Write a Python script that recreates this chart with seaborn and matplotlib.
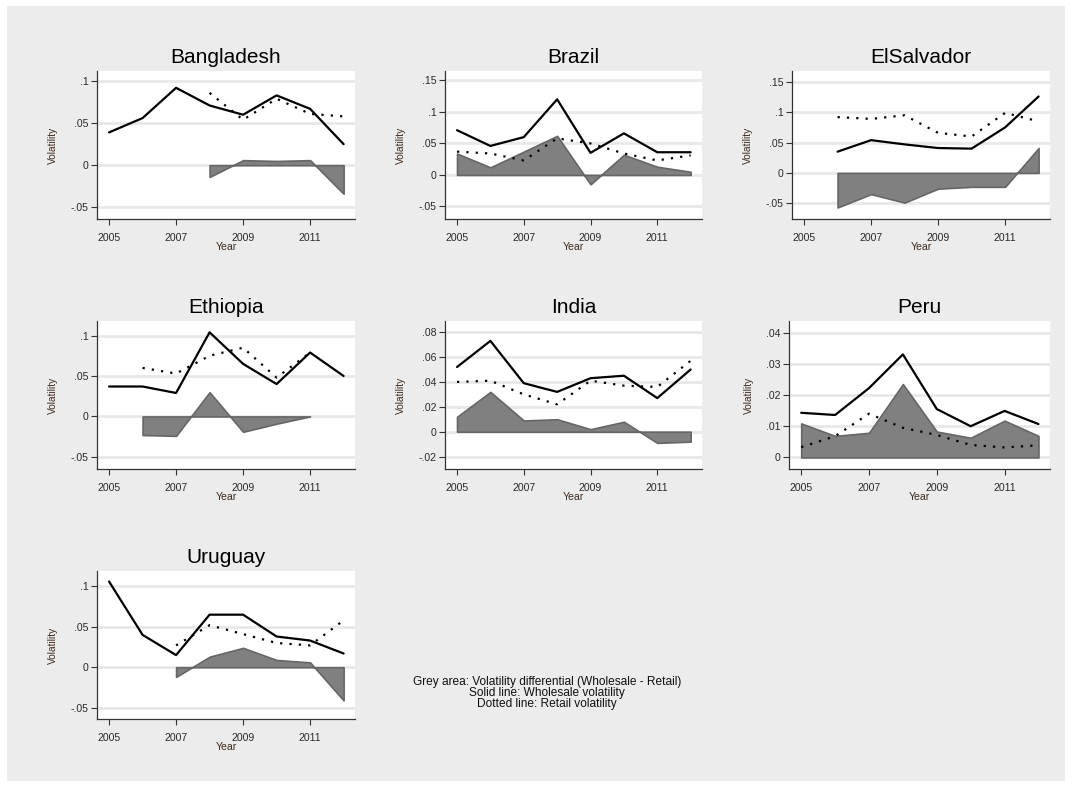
import numpy as np
import pandas as pd
import matplotlib
matplotlib.use("Agg")
import matplotlib.pyplot as plt
from matplotlib.patches import Rectangle
import seaborn as sns

years = [2005, 2006, 2007, 2008, 2009, 2010, 2011, 2012]
nan = np.nan

bangladesh_wholesale = [0.039, 0.056, 0.092, 0.071, 0.060, 0.083, 0.067, 0.025]
bangladesh_retail = [nan, nan, nan, 0.086, 0.054, 0.079, 0.061, 0.058]
bangladesh_diff = [nan, nan, nan, -0.014, 0.006, 0.005, 0.006, -0.034]

brazil_wholesale = [0.071, 0.046, 0.060, 0.120, 0.035, 0.066, 0.036, 0.036]
brazil_retail = [0.037, 0.034, 0.023, 0.058, 0.050, 0.034, 0.023, 0.031]
brazil_diff = [0.034, 0.012, 0.037, 0.062, -0.015, 0.032, 0.013, 0.005]

elsalvador_wholesale = [nan, 0.035, 0.054, 0.047, 0.041, 0.040, 0.075, 0.126]
elsalvador_retail = [nan, 0.092, 0.089, 0.095, 0.066, 0.060, 0.099, 0.085]
elsalvador_diff = [nan, -0.057, -0.035, -0.049, -0.026, -0.023, -0.023, 0.041]

ethiopia_wholesale = [0.037, 0.037, 0.029, 0.104, 0.065, 0.040, 0.079, 0.050]
ethiopia_retail = [nan, 0.060, 0.053, 0.075, 0.085, 0.048, 0.079, nan]
ethiopia_diff = [nan, -0.023, -0.024, 0.030, -0.019, -0.009, 0.0, nan]

india_wholesale = [0.052, 0.073, 0.039, 0.032, 0.043, 0.045, 0.027, 0.050]
india_retail = [0.040, 0.041, 0.030, 0.022, 0.041, 0.037, 0.036, 0.057]
india_diff = [0.012, 0.032, 0.009, 0.010, 0.002, 0.008, -0.009, -0.008]

peru_wholesale = [0.0143, 0.0136, 0.0222, 0.0330, 0.0155, 0.0100, 0.0149, 0.0107]
peru_retail = [0.0033, 0.0068, 0.0140, 0.0095, 0.0072, 0.0040, 0.0032, 0.0039]
peru_diff = [0.0109, 0.0069, 0.0079, 0.0235, 0.0083, 0.0063, 0.0118, 0.0069]

uruguay_wholesale = [0.106, 0.040, 0.015, 0.065, 0.065, 0.038, 0.033, 0.017]
uruguay_retail = [nan, nan, 0.027, 0.052, 0.041, 0.030, 0.027, 0.058]
uruguay_diff = [nan, nan, -0.012, 0.013, 0.024, 0.009, 0.006, -0.041]

xticks = [2005, 2007, 2009, 2011]

# name, series, yticks, tick labels, ylim, axes box in pixels (left, top, right, bottom)
panels = [
    ("Bangladesh", bangladesh_wholesale, bangladesh_retail, bangladesh_diff,
     [-0.05, 0, 0.05, 0.1], ["-.05", "0", ".05", ".1"], (-0.064, 0.112), (97, 71, 355, 219)),
    ("Brazil", brazil_wholesale, brazil_retail, brazil_diff,
     [-0.05, 0, 0.05, 0.1, 0.15], ["-.05", "0", ".05", ".1", ".15"], (-0.07, 0.165), (445, 71, 702, 219)),
    ("ElSalvador", elsalvador_wholesale, elsalvador_retail, elsalvador_diff,
     [-0.05, 0, 0.05, 0.1, 0.15], ["-.05", "0", ".05", ".1", ".15"], (-0.076, 0.168), (792, 71, 1050, 219)),
    ("Ethiopia", ethiopia_wholesale, ethiopia_retail, ethiopia_diff,
     [-0.05, 0, 0.05, 0.1], ["-.05", "0", ".05", ".1"], (-0.065, 0.118), (97, 321, 355, 469)),
    ("India", india_wholesale, india_retail, india_diff,
     [-0.02, 0, 0.02, 0.04, 0.06, 0.08], ["-.02", "0", ".02", ".04", ".06", ".08"], (-0.030, 0.089), (445, 321, 702, 469)),
    ("Peru", peru_wholesale, peru_retail, peru_diff,
     [0, 0.01, 0.02, 0.03, 0.04], ["0", ".01", ".02", ".03", ".04"], (-0.0037, 0.0437), (789, 321, 1050, 469)),
    ("Uruguay", uruguay_wholesale, uruguay_retail, uruguay_diff,
     [-0.05, 0, 0.05, 0.1], ["-.05", "0", ".05", ".1"], (-0.064, 0.119), (97, 571, 355, 719)),
]

sns.set_style("white")
plt.rcParams["font.family"] = ["Liberation Sans", "DejaVu Sans"]

W, H = 1072, 787
fig = plt.figure(figsize=(W / 100, H / 100), dpi=100)
fig.patch.set_facecolor("white")
fig.patches.append(Rectangle((7 / W, 1 - 781 / H), (1065 - 7) / W, (781 - 6) / H,
                             transform=fig.transFigure, facecolor="#ececec",
                             edgecolor="none", zorder=-10))

label_col = "#3d2b1f"
tick_col = "#2a2a2a"

for name, wh, rt, df_, yt, ytl, ylim, box in panels:
    l, t, r, b = box
    ax = fig.add_axes([l / W, 1 - b / H, (r - l) / W, (b - t) / H])
    ax.set_facecolor("white")

    d = pd.DataFrame({"Year": years, "wholesale": wh, "retail": rt, "diff": df_})

    # grey differential area
    da = d.dropna(subset=["diff"])
    ax.fill_between(da["Year"], 0, da["diff"], facecolor="#808080",
                    edgecolor="#666666", linewidth=1.2, zorder=2)

    dw = d.dropna(subset=["wholesale"])
    sns.lineplot(data=dw, x="Year", y="wholesale", color="black", linewidth=1.6,
                 ax=ax, zorder=3)
    dr = d.dropna(subset=["retail"])
    sns.lineplot(data=dr, x="Year", y="retail", color="black", linewidth=1.6,
                 linestyle=(0, (1, 3.2)), ax=ax, zorder=3)

    ax.set_xlim(2004.64, 2012.34)
    ax.set_ylim(*ylim)
    ax.set_xticks(xticks)
    ax.set_xticklabels([str(x) for x in xticks], fontsize=7.6, color=tick_col)
    ax.set_yticks(yt)
    ax.set_yticklabels(ytl, fontsize=7.6, color=tick_col)
    for y in yt:
        ax.axhline(y, color="#e8e8e8", linewidth=2, zorder=0)
    ax.tick_params(axis="both", direction="out", length=4, width=0.8,
                   color="#333333", pad=2, left=True, bottom=True)
    ax.tick_params(axis="x", pad=6)

    for s in ["top", "right"]:
        ax.spines[s].set_visible(False)
    for s in ["left", "bottom"]:
        ax.spines[s].set_color("#333333")
        ax.spines[s].set_linewidth(0.9)

    ax.set_xlabel("Year", fontsize=7.6, color=label_col, labelpad=-1)
    ax.set_ylabel("Volatility", fontsize=7.3, color=label_col, labelpad=9)
    ax.set_title(name, fontsize=15, color="black", pad=6)

cap_x = 547 / W
fig.text(cap_x, 1 - 682.5 / H, "Grey area: Volatility differential (Wholesale - Retail)",
         ha="center", va="center", fontsize=8.6, color="#111111")
fig.text(cap_x, 1 - 693 / H, "Solid line: Wholesale volatility",
         ha="center", va="center", fontsize=8.6, color="#111111")
fig.text(cap_x, 1 - 703.5 / H, "Dotted line: Retail volatility",
         ha="center", va="center", fontsize=8.6, color="#111111")

fig.savefig("out.png", dpi=100, facecolor=fig.get_facecolor())
